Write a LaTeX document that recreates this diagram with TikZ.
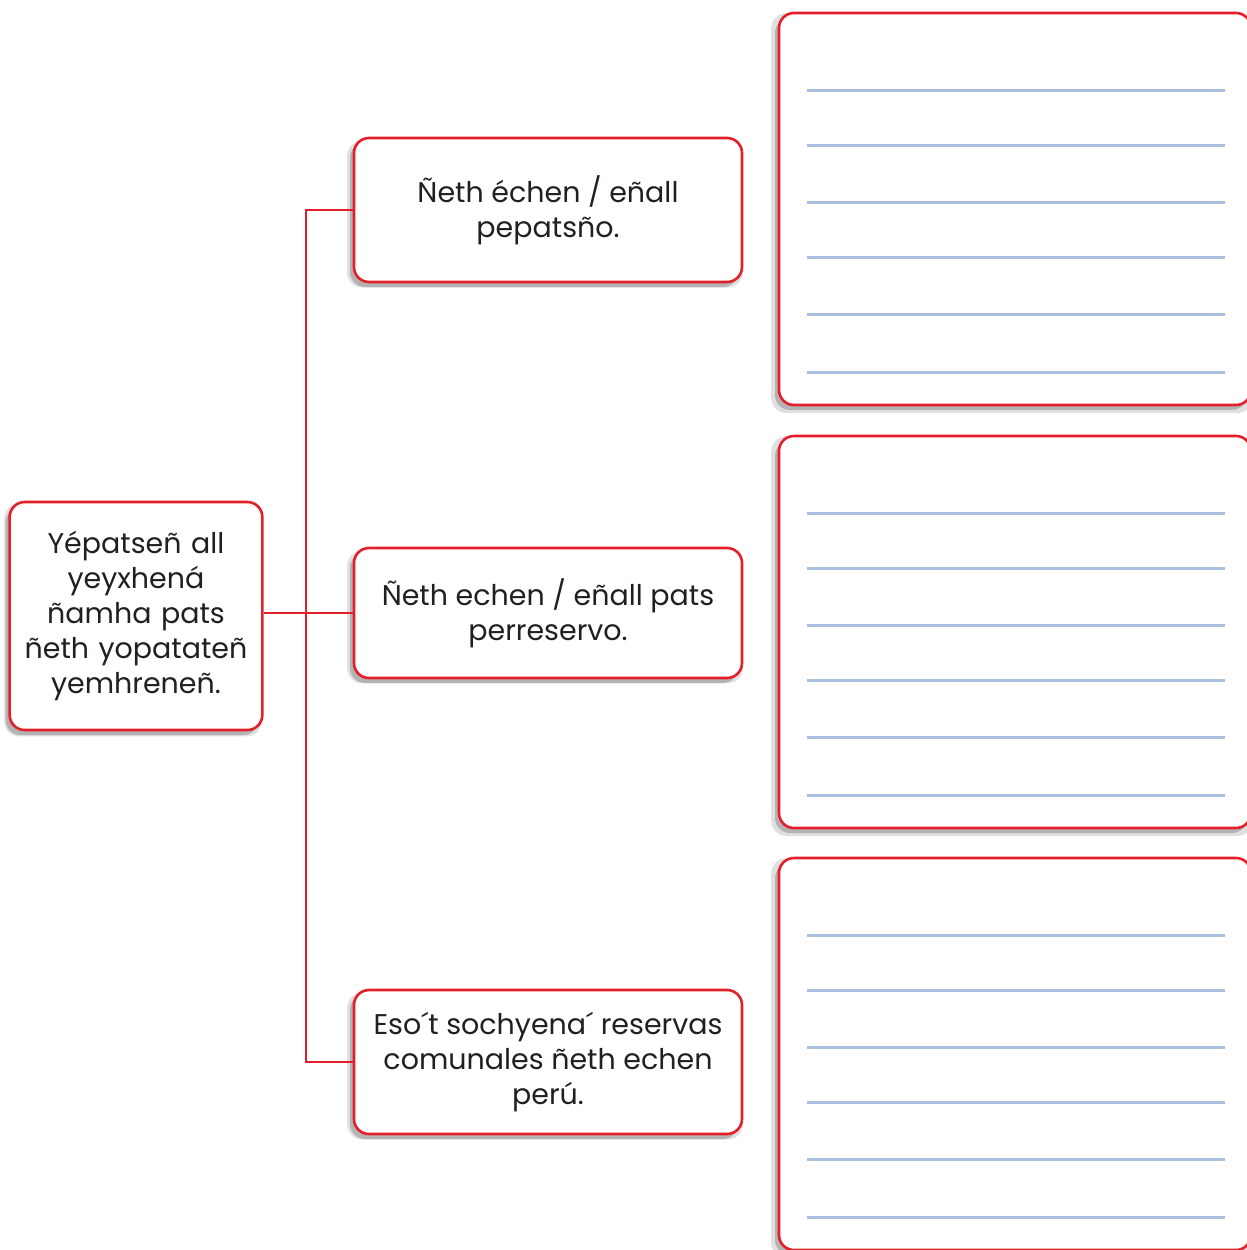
\documentclass[tikz,border=0pt]{standalone}
\usepackage{fontspec}
\setmainfont{Poppins}
\usetikzlibrary{shadows}
\definecolor{boxred}{HTML}{E3202A}
\definecolor{ruleblue}{HTML}{AABFE0}
\definecolor{ink}{HTML}{231F20}
\begin{document}
\begin{tikzpicture}[x=1pt, y=-1pt,
    font=\fontsize{28.5}{35}\selectfont, text=ink,
    card/.style ={draw=boxred, line width=2.6pt, fill=white, rounded corners=15pt, align=center,
                  drop shadow={shadow xshift=-3pt, shadow yshift=-4pt, fill=black, opacity=0.12, shadow scale=1.02},
                  drop shadow={shadow xshift=-4pt, shadow yshift=-5pt, fill=black, opacity=0.2}},
    qbox/.style ={card, minimum width=388pt},
    sheet/.style={card, minimum width=472pt, minimum height=392pt},
    link/.style ={draw=boxred, line width=2pt},
    rule/.style ={draw=ruleblue, line width=3pt},
  ]
  \useasboundingbox (0,0) rectangle (1247,1250);
  % main idea
  \node[card, minimum width=252pt, minimum height=228pt, text width=246pt] (main) at (136,616)
    {Yépatseñ all\\ yeyxhená\\ ñamha pats\\ ñeth yopatateñ\\ yemhreneñ.};
  % questions
  \node[qbox, minimum height=144pt] (qa) at (548,210) {Ñeth échen / eñall\\ pepatsño.};
  \node[qbox, minimum height=130pt] (qb) at (548,613) {Ñeth echen / eñall pats\\ perreservo.};
  \node[qbox, minimum height=144pt] (qc) at (548,1062) {Eso´t sochyena´ reservas\\ comunales ñeth echen\\ perú.};
  % answer sheets
  \node[sheet] (sa) at (1015,209) {};
  \node[sheet] (sb) at (1015,632) {};
  \node[sheet] (sc) at (1015,1054) {};
  \foreach \s in {sa,sb,sc}{
    \foreach \dy in {79,134,191,246,303,361}{
      \draw[rule] ([xshift=29pt,yshift=-\dy pt]\s.north west) -- ([xshift=447pt,yshift=-\dy pt]\s.north west);
    }
  }
  % connectors
  \coordinate (trunk) at (306,614);
  \draw[link] (main.east |- qb.west) -- (qb.west);
  \draw[link] (qa.west) -- (qa.west -| trunk) -- (qc.west -| trunk) -- (qc.west);
\end{tikzpicture}
\end{document}
